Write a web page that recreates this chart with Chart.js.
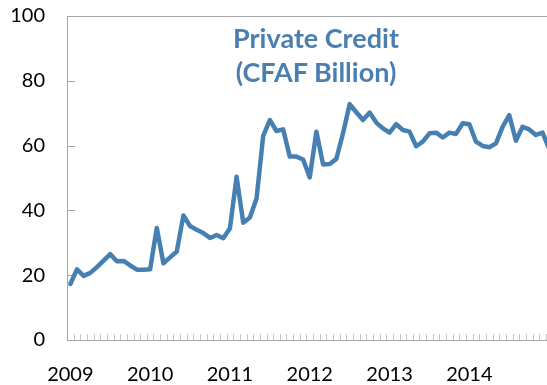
<!DOCTYPE html>
<html><head><meta charset="utf-8">
<script src="https://cdn.jsdelivr.net/npm/chart.js@4.4.1/dist/chart.umd.min.js"></script>
<style>
html,body{margin:0;padding:0;background:#fff;overflow:hidden;width:547px;height:385px;}
#wrap{position:relative;width:547px;height:385px;overflow:hidden;}
#c{position:absolute;left:0;top:0;}
#title{position:absolute;left:196px;width:240px;top:21px;text-align:center;font:bold 27px Lato, sans-serif;color:#4A7FAF;line-height:34px;white-space:nowrap;}
</style></head><body>
<div id="wrap"><canvas id="c" width="560" height="385"></canvas>
<div id="title">Private Credit<br>(CFAF Billion)</div></div>
<script>
// Tick labels (one per January)
const years = ['2009','2010','2011','2012','2013','2014','2015'];
const monthNames = ['Jan','Feb','Mar','Apr','May','Jun','Jul','Aug','Sep','Oct','Nov','Dec'];
// Private credit, CFAF billion, monthly Jan 2009 - Jan 2015
const credit = [
  17.3,21.8,19.8,20.7,22.5,24.5,26.5,24.3,24.4,23.0,21.7,21.7,
  21.8,34.6,23.7,25.5,27.3,38.4,35.2,34.0,33.0,31.5,32.4,31.4,
  34.5,50.4,36.2,37.8,43.7,63.0,67.9,64.5,65.0,56.6,56.6,55.7,
  50.2,64.3,54.2,54.3,55.9,63.8,72.8,70.3,67.9,70.2,67.1,65.3,
  64.0,66.6,64.8,64.3,59.8,61.2,63.8,64.0,62.5,64.0,63.6,66.9,
  66.6,61.2,59.9,59.5,60.7,65.8,69.4,61.5,65.8,65.0,63.3,64.0,
  59.0
];
const yTicks = [0,20,40,60,80,100];

const categories = [];
for (let i = 0; i < credit.length; i++) {
  categories.push(monthNames[i % 12] + ' ' + years[Math.floor(i / 12)]);
}

const AXIS = '#A6A6A6';
const FONT = 'Lato, sans-serif';

const decor = {
  id: 'decor',
  beforeDatasetsDraw(chart) {
    const {ctx, chartArea, scales} = chart;
    const x = scales.x, y = scales.y;
    ctx.save();
    ctx.lineWidth = 1;
    // top border
    ctx.strokeStyle = AXIS;
    ctx.beginPath();
    ctx.moveTo(chartArea.left, Math.round(chartArea.top) + 0.5);
    ctx.lineTo(chartArea.right, Math.round(chartArea.top) + 0.5);
    ctx.stroke();
    // monthly minor ticks at category boundaries, pointing inward
    const step = x.getPixelForValue(1) - x.getPixelForValue(0);
    ctx.strokeStyle = '#C8C8C8';
    ctx.beginPath();
    for (let i = 1; i <= credit.length; i++) {
      const px = Math.round(x.getPixelForValue(i) - step / 2) + 0.5;
      ctx.moveTo(px, chartArea.bottom);
      ctx.lineTo(px, chartArea.bottom - 6);
    }
    ctx.stroke();
    // y tick marks, inward
    ctx.strokeStyle = AXIS;
    ctx.beginPath();
    yTicks.forEach(v => {
      if (v === 0 || v === 100) return;
      const py = Math.round(y.getPixelForValue(v)) + 0.5;
      ctx.moveTo(chartArea.left, py);
      ctx.lineTo(chartArea.left + 8, py);
    });
    ctx.stroke();
    ctx.restore();
  }
};

function noPad(scale) {
  scale.paddingTop = 0; scale.paddingBottom = 0;
  scale.paddingLeft = 0; scale.paddingRight = 0;
}

new Chart(document.getElementById('c'), {
  type: 'line',
  data: {
    labels: categories,
    datasets: [{
      data: credit,
      borderColor: '#4680B2',
      borderWidth: 4.5,
      pointRadius: 0,
      tension: 0,
      borderJoinStyle: 'round',
      borderCapStyle: 'round',
      fill: false
    }]
  },
  options: {
    responsive: false,
    animation: false,
    layout: { padding: { top: 16, right: 7.5, left: 0, bottom: 0 } },
    plugins: { legend: { display: false }, tooltip: { enabled: false }, title: { display: false } },
    scales: {
      x: {
        type: 'category',
        offset: true,
        grid: { display: false, drawTicks: false },
        border: { display: true, color: AXIS, width: 1 },
        ticks: {
          autoSkip: false, maxRotation: 0, minRotation: 0, padding: 23,
          color: '#000', font: { family: FONT, size: 20 },
          callback: function(val, idx) { return (idx % 12 === 0 && idx < 72) ? years[idx / 12] : ''; }
        },
        afterFit(scale) { scale.height = 45; noPad(scale); }
      },
      y: {
        min: 0, max: 100,
        grid: { display: false, drawTicks: false },
        border: { display: true, color: AXIS, width: 1 },
        ticks: {
          stepSize: 20, padding: 22, color: '#000',
          font: { family: FONT, size: 20 }
        },
        afterFit(scale) { scale.width = 67; noPad(scale); }
      }
    }
  },
  plugins: [decor]
});
</script>
</body></html>
